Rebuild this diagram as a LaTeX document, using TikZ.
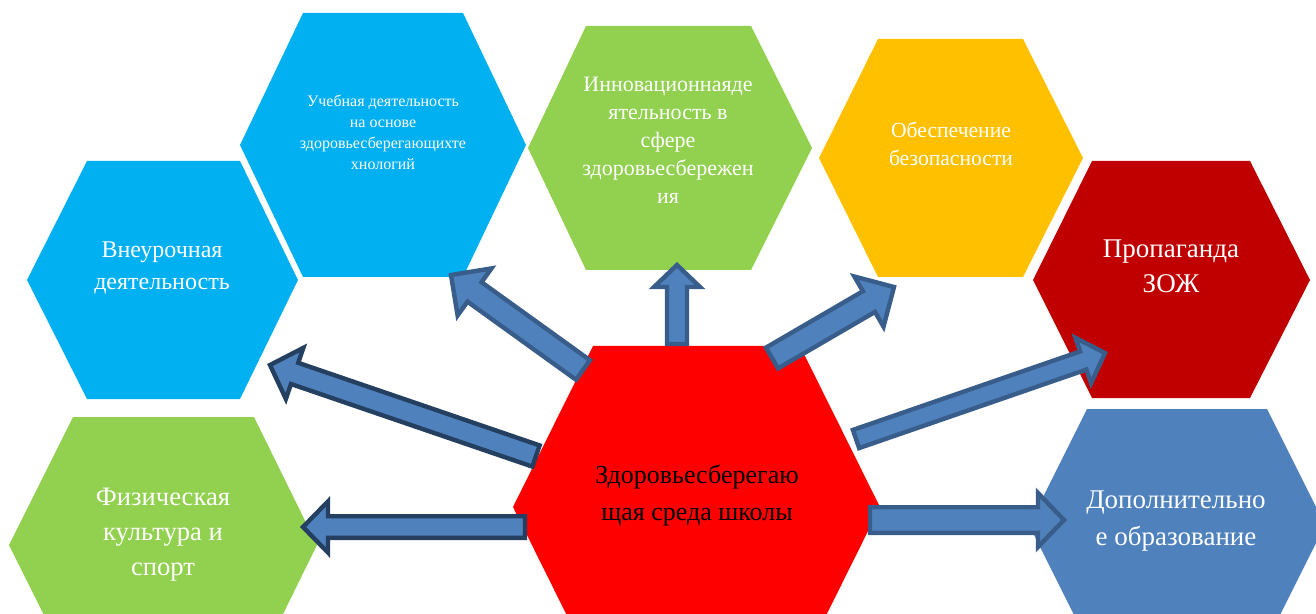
\documentclass[tikz,border=0pt]{standalone}
\usepackage{fontspec}
\setmainfont{Liberation Serif}
\usetikzlibrary{calc}
\definecolor{hexcyan}{HTML}{00B0F0}
\definecolor{hexgreen}{HTML}{92D050}
\definecolor{hexorange}{HTML}{FFC000}
\definecolor{hexdarkred}{HTML}{C00000}
\definecolor{hexsteel}{HTML}{4F81BD}
\definecolor{hexred}{HTML}{FF0000}
\definecolor{arrowfill}{HTML}{4F81BD}
\definecolor{arrowdark}{HTML}{243F60}
\definecolor{arrowline}{HTML}{385D8A}
\tikzset{
  hextext/.style={text=white, align=center, inner sep=0pt},
  blockarrow/.style={fill=arrowfill, line width=2.2pt, line join=miter},
}
\begin{document}
\begin{tikzpicture}[x=0.5pt,y=-0.5pt]
	\useasboundingbox (0,0) rectangle (1316,614);
	\clip (0,0) rectangle (1316,614);
	% hexagons
	\fill[hexcyan] (27,280) -- (87,161) -- (240,161) -- (298,280) -- (240,399) -- (87,399) -- cycle;
	\fill[hexcyan] (240,145) -- (303,13) -- (463,13) -- (526,145) -- (463,277) -- (303,277) -- cycle;
	\fill[hexgreen] (528,148) -- (586,26) -- (751,26) -- (812,148) -- (751,270) -- (586,270) -- cycle;
	\fill[hexorange] (819,158) -- (878,39) -- (1023,39) -- (1083,158) -- (1023,277) -- (878,277) -- cycle;
	\fill[hexdarkred] (1033,280) -- (1092,161) -- (1250,161) -- (1310,280) -- (1250,398) -- (1092,398) -- cycle;
	\fill[hexsteel] (1029,525) -- (1087,409) -- (1267,409) -- (1325,525) -- (1267,641) -- (1087,641) -- cycle;
	\fill[hexgreen] (9,545) -- (73,417) -- (254,417) -- (317,545) -- (254,673) -- (73,673) -- cycle;
	\fill[hexred] (513,507) -- (593,346) -- (800,346) -- (880,507) -- (800,668) -- (593,668) -- cycle;
	
	% texts
	\node[hextext, font=\fontsize{12}{16}\selectfont] (vneur) at (162,268) {Внеурочная\\деятельность};
	\node[hextext, font=\fontsize{8}{10.5}\selectfont] (ucheb) at (383,132) {Учебная деятельность\\на основе\\здоровьесберегающихте\\хнологий};
	\node[hextext, font=\fontsize{11}{14}\selectfont] (innov) at (668,140) {Инновационнаяде\\ятельность в\\сфере\\здоровьесбережен\\ия};
	\node[hextext, font=\fontsize{10.8}{14}\selectfont] (bezop) at (951,144) {Обеспечение\\безопасности};
	\node[hextext, font=\fontsize{13.5}{17.5}\selectfont] (prop) at (1171,266) {Пропаганда\\ЗОЖ};
	\node[hextext, font=\fontsize{13.5}{18.5}\selectfont] (dop) at (1176,521) {Дополнительно\\е образование};
	\node[hextext, font=\fontsize{13.3}{17.5}\selectfont] (fiz) at (163,535) {Физическая\\культура и\\спорт};
	\node[align=center, inner sep=0pt, font=\fontsize{13}{18.5}\selectfont] (sreda) at (697,495) {Здоровьесберегаю\\щая среда школы};
	
	% arrow ends
	\coordinate (vneurT) at (536,456);  \coordinate (vneurH) at (270,365);
	\coordinate (fizT) at (525,527);    \coordinate (fizH) at (303,527);
	\coordinate (uchebT) at (583,370);  \coordinate (uchebH) at (451,275);
	\coordinate (innovT) at (677,344);  \coordinate (innovH) at (677,265);
	\coordinate (bezopT) at (772,358);  \coordinate (bezopH) at (894,287);
	\coordinate (propT) at (856,439);   \coordinate (propH) at (1105,353);
	\coordinate (dopT) at (870,520);    \coordinate (dopH) at (1064,520);
	
	% block arrows
	\foreach \a/\b/\c/\w/\h/\l in {vneurT/vneurH/arrowdark/5.6/13.5/13, fizT/fizH/arrowdark/5.4/12.8/12.5,
		uchebT/uchebH/arrowline/6/14.5/14.5, innovT/innovH/arrowline/5/11.5/11,
		bezopT/bezopH/arrowline/6/14.5/14.5, propT/propH/arrowline/4.8/12/11.5, dopT/dopH/arrowline/6.4/13.5/13}{
		\coordinate (hb) at ($(\b)!\l pt!(\a)$);
		\filldraw[blockarrow, draw=\c] ($(\a)!\w pt!90:(\b)$) -- ($(hb)!\w pt!90:(\b)$) -- ($(hb)!\h pt!90:(\b)$) -- (\b)
			-- ($(hb)!\h pt!-90:(\b)$) -- ($(hb)!\w pt!-90:(\b)$) -- ($(\a)!\w pt!-90:(\b)$) -- cycle;
	}
\end{tikzpicture}
\end{document}
